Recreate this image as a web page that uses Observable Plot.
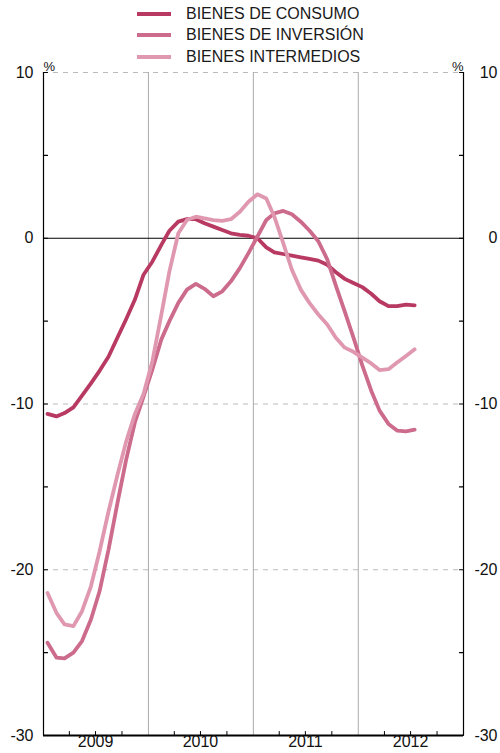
<!DOCTYPE html>
<html><head><meta charset="utf-8">
<script src="https://cdn.jsdelivr.net/npm/d3@7"></script>
<script src="https://cdn.jsdelivr.net/npm/@observablehq/plot@0.6"></script>
<style>
body{margin:0;background:#fff;font-family:"Liberation Sans",Arial,Helvetica,sans-serif;}
#wrap{position:relative;width:500px;height:753px;}
#legend{position:absolute;left:137px;top:3px;z-index:2;}
.row{display:flex;align-items:center;height:21.5px;font-size:16px;color:#1a1a1a;}
.sw{width:34px;height:4px;margin-right:15px;}
</style></head><body><div id="wrap"><div id="legend"></div></div>
<script>
const seriesNames = ["BIENES DE CONSUMO", "BIENES DE INVERSIÓN", "BIENES INTERMEDIOS"];
const seriesColors = ["#b83a62", "#cc6b8c", "#df98b0"];
const firstYear = 2009, lastYear = 2012;
const consumo = [-10.6, -10.75, -10.55, -10.2, -9.5, -8.75, -8.0, -7.15, -6.0, -4.9, -3.7, -2.2, -1.4, -0.4, 0.45, 1.0, 1.15, 1.15, 0.9, 0.7, 0.5, 0.3, 0.2, 0.15, 0.0, -0.55, -0.85, -0.95, -1.05, -1.15, -1.25, -1.35, -1.6, -2.05, -2.45, -2.7, -2.95, -3.35, -3.8, -4.1, -4.1, -4.0, -4.05];
const inversion = [-24.4, -25.3, -25.35, -25.0, -24.3, -23.0, -21.3, -18.8, -16.0, -13.4, -11.1, -9.55, -7.9, -6.1, -5.0, -3.9, -3.1, -2.75, -3.05, -3.5, -3.2, -2.6, -1.8, -0.9, 0.1, 1.1, 1.5, 1.65, 1.45, 1.0, 0.47, -0.18, -1.27, -2.86, -4.43, -5.98, -7.67, -9.2, -10.4, -11.2, -11.6, -11.65, -11.55];
const intermedios = [-21.4, -22.6, -23.3, -23.4, -22.5, -21.0, -18.9, -16.5, -14.3, -12.3, -10.6, -9.4, -7.4, -4.6, -2.0, 0.3, 1.1, 1.3, 1.2, 1.1, 1.05, 1.15, 1.6, 2.2, 2.65, 2.4, 1.3, -0.3, -1.9, -3.1, -3.9, -4.6, -5.2, -6.0, -6.6, -6.85, -7.2, -7.55, -7.95, -7.9, -7.5, -7.1, -6.7];
const yearLabels = ["2009", "2010", "2011", "2012"];
const yLabelTicks = [10, 0, -10, -20, -30];
const yMinorTicks = [10, 5, 0, -5, -10, -15, -20, -25, -30];
const dashedGrid = [10, -10, -20];

const start = new Date(Date.UTC(firstYear, 0, 1));
const end = new Date(Date.UTC(lastYear + 1, 0, 1));
const months = d3.utcMonth.range(start, end).slice(0, consumo.length);
const allSeries = [consumo, inversion, intermedios];
const data = [];
allSeries.forEach((vals, s) => vals.forEach((v, i) => data.push({date: d3.utcDay.offset(months[i], 14), value: v, series: seriesNames[s]})));
const yearStarts = yearLabels.map(y => new Date(Date.UTC(+y, 0, 1)));
const innerYears = yearStarts.slice(1);
const quarters = d3.utcMonth.every(3).range(start, end).filter(d => d.getUTCMonth() !== 0);
const tickShape = {draw(ctx, l) { ctx.moveTo(0, 0); ctx.lineTo(0, -l); }};

const legend = document.getElementById("legend");
seriesNames.forEach((n, i) => {
  const r = document.createElement("div"); r.className = "row";
  const sw = document.createElement("div"); sw.className = "sw"; sw.style.background = seriesColors[i];
  const t = document.createElement("span"); t.textContent = n;
  r.appendChild(sw); r.appendChild(t); legend.appendChild(r);
});

const chart = Plot.plot({
  width: 500, height: 753,
  marginLeft: 43, marginRight: 37, marginTop: 72, marginBottom: 18,
  x: {type: "utc", domain: [start, end], axis: null},
  y: {domain: [-30, 10], axis: null},
  color: {domain: seriesNames, range: seriesColors},
  style: {fontFamily: '"Liberation Sans", Arial, Helvetica, sans-serif', fontSize: "16px", background: "transparent", color: "#111"},
  marks: [
    Plot.ruleY(dashedGrid, {stroke: "#bbb", strokeDasharray: "5,5"}),
    Plot.ruleX(innerYears, {stroke: "#aaa", strokeWidth: 1}),
    Plot.ruleY([0], {stroke: "#000", strokeWidth: 1}),
    Plot.line(data, {x: "date", y: "value", z: "series", stroke: "series", strokeWidth: 3.8, strokeLinejoin: "round"}),
    Plot.ruleX([start], {stroke: "#000", strokeWidth: 1.2}),
    Plot.ruleX([end], {stroke: "#000", strokeWidth: 1.2}),
    Plot.ruleY([-30], {stroke: "#000", strokeWidth: 2}),
    Plot.vector(yMinorTicks, {x: d => start, y: d => d, length: 4, rotate: 90, anchor: "start", shape: tickShape, stroke: "#000", strokeWidth: 1.2}),
    Plot.vector(yMinorTicks, {x: d => end, y: d => d, length: 4, rotate: -90, anchor: "start", shape: tickShape, stroke: "#000", strokeWidth: 1.2}),
    Plot.vector(quarters, {x: d => d, y: d => -30, length: 4, rotate: 0, anchor: "start", shape: tickShape, stroke: "#000", strokeWidth: 1}),
    Plot.text(yLabelTicks, {y: d => d, frameAnchor: "left", dx: -10, textAnchor: "end", text: d => String(d), fontSize: 16}),
    Plot.text(yLabelTicks, {y: d => d, frameAnchor: "right", dx: 34, textAnchor: "end", text: d => String(d), fontSize: 16}),
    Plot.text(["%"], {frameAnchor: "top-left", dy: -10.5, text: d => d, fontSize: 13}),
    Plot.text(["%"], {frameAnchor: "top-right", dy: -10.5, text: d => d, fontSize: 13}),
    Plot.text(yearLabels, {x: d => new Date(Date.UTC(+d, 6, 1)), frameAnchor: "bottom", dy: 11.5, text: d => d, fontSize: 16})
  ]
});
document.getElementById("wrap").appendChild(chart);
</script></body></html>
